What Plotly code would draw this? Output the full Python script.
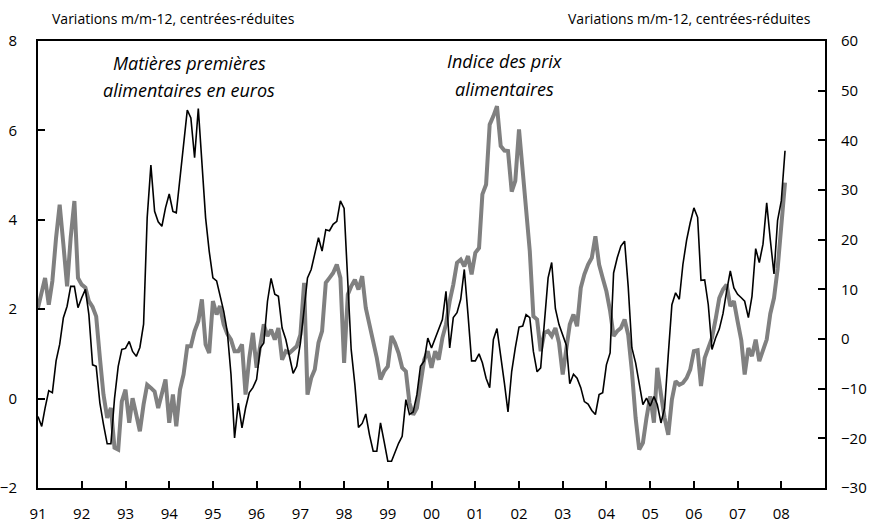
import pandas as pd
import plotly.graph_objects as go

start_month = "1991-01-01"

# Matières premières alimentaires en euros (right axis), monthly from Jan 1991
commodities = [
    -15.6, -17.6, -13.9, -10.4, -10.8, -4.4, -1.1, 4.3, 6.6, 10.6, 10.6, 6.3,
    8.3, 10.0, 4.9, -5.2, -5.5, -12.9, -17.2, -21.1, -21.1, -12.0, -5.5, -2.1,
    -1.9, -0.5, -2.5, -3.5, -1.7, 3.0, 24.4, 35.0, 25.7, 23.6, 22.7, 26.4,
    29.2, 25.7, 25.4, 32.1, 39.2, 46.1, 44.5, 36.5, 46.4, 34.4, 24.4, 17.7,
    12.3, 11.7, 8.6, 5.6, 1.5, -7.1, -19.9, -12.9, -17.9, -13.9, -10.8, -9.8,
    -8.1, -1.8, -0.8, 7.6, 12.2, 9.0, 8.6, 2.2, -0.1, -3.8, -6.9, -5.5,
    -0.8, 6.0, 12.3, 14.0, 17.3, 20.4, 17.7, 22.0, 21.8, 23.1, 23.7, 27.8,
    26.3, 10.6, -2.1, -9.2, -17.8, -17.0, -15.1, -19.3, -22.6, -22.6, -16.9, -20.6,
    -24.6, -24.6, -22.8, -21.0, -19.6, -12.2, -15.2, -14.7, -11.2, -5.5, -4.4, 0.2,
    -1.8, 0.2, 2.2, 3.9, 9.6, -1.8, 4.3, 5.3, 8.0, 14.0, 4.9, -4.4,
    -4.4, -3.0, -4.8, -7.9, -9.8, -0.1, 2.1, -3.1, -8.9, -14.7, -6.5, -1.8,
    2.4, 2.6, 4.9, 4.3, -2.5, -6.6, -5.8, 3.3, 12.3, 15.4, 6.1, 2.9,
    0.6, -1.3, -9.0, -7.1, -7.9, -9.8, -12.6, -13.1, -14.4, -15.2, -11.2, -10.8,
    -5.2, -2.8, 13.3, 16.4, 18.7, 19.7, 10.6, -1.8, -4.8, -9.3, -13.2, -11.9,
    -13.5, -11.6, -13.2, -16.9, -13.9, -3.1, 6.9, 9.3, 8.0, 15.0, 19.9, 23.4,
    26.4, 24.5, 11.8, 11.9, 6.9, -2.1, 0.2, 2.0, 5.1, 9.6, 13.7, 10.3,
    9.0, 8.3, 7.6, 4.3, 8.6, 18.2, 15.4, 19.1, 27.4, 20.0, 13.1, 23.9,
    27.8, 37.9,
]

# Indice des prix alimentaires (left axis), monthly from Jan 1991
food_prices = [
    2.03, 2.35, 2.70, 2.10, 2.63, 3.60, 4.34, 3.45, 2.51, 3.60, 4.42, 2.70,
    2.55, 2.48, 2.18, 2.05, 1.84, 0.91, 0.09, -0.43, -0.21, -1.10, -1.14, -0.06,
    0.20, -0.54, 0.01, -0.36, -0.73, -0.13, 0.31, 0.24, 0.16, -0.21, 0.09, 0.43,
    -0.54, 0.09, -0.62, 0.20, 0.54, 1.17, 1.17, 1.51, 1.73, 2.22, 1.21, 1.02,
    2.18, 1.88, 2.07, 1.66, 1.45, 1.32, 1.06, 1.06, 1.21, 0.09, 0.91, 1.47,
    0.69, 1.21, 1.66, 1.40, 1.54, 1.32, 1.58, 0.87, 1.06, 1.02, 1.10, 1.17,
    1.43, 2.59, 0.09, 0.46, 0.65, 1.25, 1.51, 2.59, 2.70, 2.81, 3.00, 2.70,
    0.80, 2.33, 2.51, 2.66, 2.44, 2.74, 2.03, 1.66, 1.32, 0.91, 0.43, 0.61,
    0.72, 1.40, 1.25, 1.02, 0.69, 0.61, -0.10, -0.36, -0.21, 0.40, 0.87, 1.06,
    0.69, 1.06, 0.87, 1.36, 1.66, 2.18, 2.55, 3.04, 3.11, 2.96, 3.19, 2.78,
    3.26, 3.37, 4.57, 4.79, 6.13, 6.32, 6.54, 5.65, 5.55, 5.54, 4.63, 4.87,
    6.02, 5.09, 4.23, 3.30, 1.84, 1.77, 1.06, 1.47, 1.51, 1.40, 1.58, 1.25,
    0.54, 1.13, 1.66, 1.88, 1.62, 2.48, 2.78, 3.00, 3.15, 3.63, 3.00, 2.70,
    2.40, 1.96, 1.40, 1.51, 1.58, 1.77, 1.43, 0.61, -0.43, -1.14, -0.99, -0.43,
    0.05, -0.54, 0.69, 0.09, -0.43, -0.81, -0.02, 0.39, 0.31, 0.35, 0.46, 0.65,
    1.06, 1.08, 0.28, 0.91, 1.13, 1.36, 1.77, 2.25, 2.44, 2.55, 2.07, 2.18,
    1.73, 1.30, 0.54, 1.13, 0.95, 1.32, 0.84, 1.10, 1.32, 1.90, 2.25, 2.90,
    4.00, 4.83,
]

left_ticks = [-2, 0, 2, 4, 6, 8]
right_ticks = [-30, -20, -10, 0, 10, 20, 30, 40, 50, 60]
year_ticks = [f"{y}-01-01" for y in range(1991, 2009)]
year_labels = [f"{y % 100:02d}" for y in range(1991, 2009)]

dates = pd.date_range(start_month, periods=len(food_prices), freq="MS")

FONT = "'Open Sans', Lato, sans-serif"

fig = go.Figure()
fig.add_trace(go.Scatter(
    x=dates, y=food_prices, mode="lines", yaxis="y",
    line=dict(color="#808080", width=4), name="Indice des prix alimentaires",
))
fig.add_trace(go.Scatter(
    x=pd.date_range(start_month, periods=len(commodities), freq="MS"),
    y=commodities, mode="lines", yaxis="y2",
    line=dict(color="#000000", width=1.6), name="Matières premières alimentaires en euros",
))

fig.update_layout(
    width=871, height=524,
    margin=dict(l=38, r=46, t=41, b=36),
    paper_bgcolor="white", plot_bgcolor="white",
    showlegend=False,
    font=dict(family=FONT, size=15, color="#000"),
    xaxis=dict(
        type="date", range=["1991-01-01", "2008-12-31"],
        tickvals=year_ticks, ticktext=year_labels,
        ticks="inside", ticklen=7, tickwidth=2, tickcolor="#000",
        showline=True, linewidth=2, linecolor="#000", mirror=True,
        showgrid=False, zeroline=False, ticklabelstandoff=11,
        tickfont=dict(size=15), automargin=False,
    ),
    yaxis=dict(
        range=[-2, 8], tickvals=left_ticks,
        ticks="inside", ticklen=7, tickwidth=1.5, tickcolor="#000",
        showline=True, linewidth=2, linecolor="#000",
        showgrid=False, zeroline=False, ticklabelstandoff=16,
        tickfont=dict(size=15), automargin=False,
    ),
    yaxis2=dict(
        range=[-30, 60], tickvals=right_ticks,
        overlaying="y", side="right",
        ticks="inside", ticklen=7, tickwidth=1.5, tickcolor="#000",
        showline=True, linewidth=2, linecolor="#000",
        showgrid=False, zeroline=False, ticklabelstandoff=11,
        tickfont=dict(size=15), automargin=False,
    ),
)

ann_font = dict(family=FONT, size=14, color="#000")
it_font = dict(family=FONT, size=18, color="#000")
fig.add_annotation(text="Variations m/m-12, centrées-réduites", xref="paper", yref="paper",
                   x=0.015, y=1.051, xanchor="left", yanchor="middle", showarrow=False, font=ann_font)
fig.add_annotation(text="Variations m/m-12, centrées-réduites", xref="paper", yref="paper",
                   x=0.985, y=1.051, xanchor="right", yanchor="middle", showarrow=False, font=ann_font)
fig.add_annotation(text="<i>Matières premières</i>", xref="paper", yref="paper",
                   x=0.192, y=0.951, xanchor="center", yanchor="middle", showarrow=False, font=it_font)
fig.add_annotation(text="<i>alimentaires en euros</i>", xref="paper", yref="paper",
                   x=0.192, y=0.890, xanchor="center", yanchor="middle", showarrow=False, font=it_font)
fig.add_annotation(text="<i>Indice des prix</i>", xref="paper", yref="paper",
                   x=0.593, y=0.955, xanchor="center", yanchor="middle", showarrow=False, font=it_font)
fig.add_annotation(text="<i>alimentaires</i>", xref="paper", yref="paper",
                   x=0.593, y=0.892, xanchor="center", yanchor="middle", showarrow=False, font=it_font)

fig.write_html("out.html", config={"displayModeBar": False},
               post_script="document.body.style.margin='0';")
